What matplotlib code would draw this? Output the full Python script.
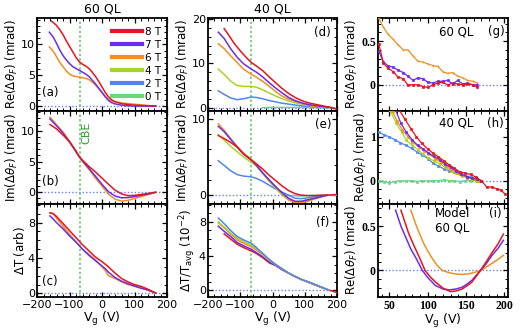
import matplotlib
matplotlib.use("Agg")
import matplotlib.pyplot as plt
from matplotlib.lines import Line2D
from matplotlib.ticker import MultipleLocator
from matplotlib.font_manager import FontProperties

# ---------------- data ----------------
fields = ["8 T", "7 T", "6 T", "4 T", "2 T", "0 T"]
colors = {"8 T": "#e8141c", "7 T": "#6b2cf0", "6 T": "#f0901e",
          "4 T": "#a8d42a", "2 T": "#4f86f2", "0 T": "#6ad77e"}

# (a) 60 QL Re
a_8_v = [-155, -140, -130, -120, -110, -100, -90, -80, -70, -60, -50, -40, -30, -20, -10, 0, 10, 20, 30, 40, 60, 80, 100, 120, 140, 165]
a_8_y = [13.8, 13.1, 12.4, 11.6, 10.6, 9.7, 8.8, 7.9, 7.2, 6.8, 6.5, 6.1, 5.5, 4.8, 4.0, 3.1, 2.2, 1.5, 1.0, 0.7, 0.4, 0.25, 0.15, 0.1, 0.05, 0.0]
a_7_v = [-162, -150, -140, -130, -120, -110, -100, -90, -80, -70, -60, -50, -40, -30, -20, -10, 0, 10, 20, 30, 40, 60, 80, 100, 140, 165]
a_7_y = [12.0, 11.2, 10.2, 9.1, 8.2, 7.5, 6.9, 6.4, 6.1, 5.8, 5.5, 5.2, 4.8, 4.2, 3.6, 2.9, 2.2, 1.5, 0.9, 0.55, 0.35, 0.15, 0.05, 0.0, 0.0, 0.0]
a_6_v = [-162, -150, -140, -130, -120, -110, -100, -90, -80, -70, -60, -50, -40, -30, -20, -10, 0, 10, 20, 30, 40, 60, 80, 100, 120, 140, 165]
a_6_y = [9.6, 8.9, 8.0, 7.1, 6.4, 5.7, 5.2, 4.9, 4.8, 4.7, 4.6, 4.5, 4.3, 3.9, 3.4, 2.8, 2.2, 1.6, 1.1, 0.85, 0.7, 0.5, 0.4, 0.3, 0.2, 0.1, 0.0]

# (b) 60 QL Im
b_v = [-160, -140, -120, -100, -80, -70, -60, -40, -20, 0, 20, 40, 60, 80, 100, 120, 140, 165]
b_8_y = [11.0, 10.3, 9.3, 8.2, 6.7, 5.8, 5.2, 4.2, 3.3, 2.3, 1.3, 0.35, -0.25, -0.55, -0.5, -0.35, -0.2, 0.0]
b_7_y = [11.9, 10.8, 9.6, 8.2, 6.6, 5.8, 5.1, 3.9, 2.6, 1.3, 0.1, -0.6, -0.9, -0.85, -0.7, -0.5, -0.3, 0.0]
b_6_y = [12.2, 11.0, 9.8, 8.3, 6.6, 5.8, 5.0, 3.7, 2.3, 1.0, -0.3, -1.1, -1.45, -1.3, -1.0, -0.7, -0.4, 0.0]

# (c) 60 QL transmission
c_v = [-160, -150, -140, -120, -100, -80, -60, -40, -20, 0, 10, 20, 40, 60, 80, 100, 120, 140, 165]
c_8_y = [9.1, 9.0, 8.7, 7.9, 7.1, 6.3, 5.5, 4.8, 4.1, 3.6, 3.3, 3.0, 2.3, 1.7, 1.3, 1.0, 0.8, 0.5, 0.05]
c_7_y = [8.75, 8.4, 8.0, 7.3, 6.5, 5.8, 5.0, 4.3, 3.7, 3.1, 2.8, 2.4, 1.8, 1.4, 1.1, 0.85, 0.6, 0.4, 0.05]
c_6_y = [9.1, 9.0, 8.5, 7.6, 6.7, 5.8, 5.0, 4.4, 3.8, 3.0, 2.6, 2.0, 1.7, 1.3, 1.0, 0.8, 0.6, 0.4, 0.05]

# (d) 40 QL Re
d_v = [-168, -150, -130, -110, -90, -66, -50, -30, -10, 10, 30, 50, 70, 90, 110, 130, 150, 175]
d_8_v = [-150, -140, -120, -100, -80, -66, -50, -30, -10, 10, 30, 50, 70, 90, 110, 130, 150, 170, 185, 202]
d_8_y = [17.8, 16.8, 14.6, 12.8, 11.2, 10.2, 9.4, 8.3, 6.9, 5.6, 4.3, 3.2, 2.3, 1.6, 1.1, 0.8, 0.5, 0.2, 0.0, -0.4]
d_7_y = [17.0, 15.6, 13.3, 11.4, 9.9, 8.7, 8.0, 6.9, 5.6, 4.4, 3.3, 2.3, 1.6, 1.1, 0.7, 0.5, 0.3, 0.1]
d_6_y = [14.4, 13.3, 11.7, 10.2, 8.7, 7.5, 6.9, 5.9, 4.8, 3.6, 2.6, 1.9, 1.4, 1.0, 0.7, 0.4, 0.2, 0.05]
d_4_y = [8.7, 7.5, 6.0, 5.0, 4.8, 4.8, 4.6, 4.0, 3.3, 2.6, 2.0, 1.5, 1.1, 0.8, 0.5, 0.3, 0.15, 0.05]
d_2_y = [3.8, 3.0, 2.2, 1.8, 2.0, 2.4, 2.3, 2.0, 1.6, 1.3, 1.0, 0.8, 0.6, 0.4, 0.3, 0.15, 0.05, 0.0]
d_0_v = [-30, 0, 50, 100, 150, 180]
d_0_y = [0.0, 0.05, 0.05, 0.05, 0.0, 0.0]

# (e) 40 QL Im
e_v = [-168, -150, -130, -110, -90, -66, -50, -30, -10, 10, 30, 50, 70, 90, 110, 130, 150, 170]
e_8_v = e_v + [200]
e_8_y = [7.8, 7.4, 6.9, 6.3, 5.4, 4.6, 4.1, 3.4, 2.6, 1.9, 1.2, 0.6, 0.2, 0.0, -0.05, -0.05, 0.0, 0.0, 0.1]
e_7_y = [9.0, 8.3, 7.3, 6.3, 5.4, 4.6, 3.9, 2.9, 2.0, 1.1, 0.3, -0.4, -0.8, -0.8, -0.6, -0.4, -0.2, 0.0]
e_6_y = [9.3, 8.5, 7.4, 6.4, 5.5, 4.7, 4.0, 2.9, 1.9, 1.1, 0.2, -0.6, -1.0, -1.0, -0.8, -0.5, -0.25, 0.0]
e_4_y = [7.9, 7.2, 6.4, 5.7, 5.0, 4.3, 3.8, 2.8, 1.8, 0.9, 0.0, -0.6, -0.85, -0.8, -0.6, -0.4, -0.2, 0.0]
e_2_y = [4.5, 3.9, 3.2, 2.7, 2.5, 2.4, 2.2, 1.8, 1.3, 0.8, 0.4, 0.0, -0.4, -0.45, -0.35, -0.2, -0.1, 0.0]
e_0_v = [30, 60, 90, 120, 150, 180, 200]
e_0_y = [0.0, -0.05, -0.1, -0.05, 0.0, 0.0, 0.0]

# (f) 40 QL transmission
f_v = [-168, -150, -130, -110, -90, -66, -50, -30, -10, 10, 30, 50, 70, 90, 110, 130, 150, 175]
f_8_v = [-150, -130, -110, -90, -66, -50, -30, -10, 10, 30, 50, 70, 90, 110, 130, 150, 175, 190, 202]
f_8_y = [6.6, 6.0, 5.4, 5.0, 4.6, 4.3, 3.8, 3.2, 2.9, 2.4, 2.0, 1.6, 1.25, 0.95, 0.65, 0.35, 0.0, -0.15, -0.35]
f_7_y = [7.5, 6.9, 6.3, 5.6, 5.2, 4.8, 4.4, 3.9, 3.3, 2.9, 2.4, 2.0, 1.6, 1.25, 0.95, 0.65, 0.35, 0.0]
f_6_y = [7.9, 7.3, 6.6, 5.9, 5.5, 5.1, 4.7, 4.1, 3.5, 3.0, 2.5, 2.0, 1.6, 1.25, 0.97, 0.67, 0.37, 0.0]
f_4_y = [8.0, 7.4, 6.7, 6.1, 5.7, 5.3, 4.9, 4.2, 3.6, 3.0, 2.5, 2.0, 1.6, 1.25, 0.98, 0.68, 0.38, 0.0]
f_2_y = [8.45, 7.8, 7.0, 6.3, 5.9, 5.5, 5.0, 4.3, 3.6, 3.0, 2.5, 2.0, 1.6, 1.25, 1.0, 0.7, 0.4, 0.0]

# (g) 60 QL Re, high gate range
g_v = [36, 42, 48, 55, 61, 68, 74, 81, 87, 94, 100, 107, 113, 120, 126, 133, 139, 146, 152, 159, 165]
g_6_y = [0.76, 0.66, 0.58, 0.52, 0.46, 0.40, 0.40, 0.33, 0.27, 0.26, 0.24, 0.22, 0.21, 0.15, 0.13, 0.14, 0.10, 0.08, 0.05, 0.04, 0.02]
g_8_y = [0.47, 0.25, 0.19, 0.15, 0.09, 0.07, 0.00, 0.00, 0.00, -0.02, -0.03, 0.00, 0.02, 0.03, 0.00, 0.02, 0.01, 0.00, 0.01, 0.00, -0.03]
g_7_y = [0.39, 0.26, 0.22, 0.20, 0.17, 0.14, 0.10, 0.05, 0.08, 0.07, 0.03, 0.02, 0.04, 0.04, 0.05, 0.01, 0.05, 0.01, 0.02, 0.00, 0.00]

# (h) 40 QL Re, high gate range
h_8_v = [55, 63, 70, 78, 85, 92, 100, 107, 114, 121, 128, 135, 142, 149, 156, 163, 170, 177, 184, 190, 196, 201]
h_8_y = [1.9, 1.6, 1.4, 1.18, 1.0, 0.85, 0.72, 0.62, 0.54, 0.45, 0.36, 0.28, 0.2, 0.17, 0.14, 0.08, 0.0, -0.14, -0.15, -0.18, -0.22, -0.3]
h_7_v = [50, 58, 65, 72, 80, 87, 94, 101, 108, 116, 123, 130, 137, 144, 151, 158, 165, 170]
h_7_y = [1.9, 1.6, 1.3, 1.1, 0.92, 0.8, 0.72, 0.63, 0.55, 0.47, 0.38, 0.3, 0.22, 0.15, 0.09, 0.05, 0.03, 0.0]
h_6_v = [48, 54, 60, 67, 74, 80, 88, 95, 102, 110, 117, 124, 131, 138, 145, 152, 159, 166]
h_6_y = [1.7, 1.58, 1.35, 1.15, 1.0, 0.88, 0.77, 0.68, 0.6, 0.5, 0.42, 0.33, 0.25, 0.18, 0.12, 0.07, 0.03, 0.0]
h_4_v = [45, 52, 59, 66, 72, 80, 87, 94, 101, 108, 116, 123, 130, 137, 145, 152, 159, 166]
h_4_y = [1.65, 1.55, 1.3, 1.1, 0.92, 0.8, 0.7, 0.6, 0.52, 0.45, 0.38, 0.3, 0.23, 0.17, 0.1, 0.06, 0.03, 0.0]
h_2_v = [36, 43, 50, 57, 64, 72, 79, 86, 93, 100, 107, 114, 121, 128, 135, 142, 149, 156, 163, 170]
h_2_y = [1.1, 1.04, 0.99, 0.93, 0.86, 0.8, 0.73, 0.65, 0.58, 0.5, 0.4, 0.33, 0.27, 0.22, 0.2, 0.16, 0.12, 0.08, 0.05, 0.0]
h_0_y = [0.0, -0.02, -0.05, -0.02, 0.0, -0.01, 0.0, -0.02, 0.0, -0.01, 0.0, 0.0, 0.02, 0.0, 0.0, -0.02, 0.0, 0.0, 0.0, 0.0]

# (i) model, 60 QL
i_7_v = [58, 65, 71, 78, 84, 93, 100, 110, 120, 128, 137, 145, 152, 158, 164, 169, 176, 184, 192, 199]
i_7_y = [0.68, 0.5, 0.38, 0.24, 0.15, 0.0, -0.08, -0.17, -0.21, -0.22, -0.21, -0.19, -0.15, -0.11, -0.05, 0.0, 0.07, 0.17, 0.25, 0.34]
i_8_v = [65, 70, 75, 82, 89, 96.5, 103, 110, 120, 130, 138, 145, 152, 158, 164, 169, 176, 184, 192, 199]
i_8_y = [0.68, 0.55, 0.42, 0.28, 0.15, 0.0, -0.07, -0.13, -0.2, -0.24, -0.23, -0.21, -0.17, -0.13, -0.06, 0.0, 0.09, 0.2, 0.3, 0.41]
i_6_v = [78, 84, 90, 95, 100, 106, 112, 119, 126, 132, 138, 145, 152, 158, 164, 169, 176, 184, 192, 199]
i_6_y = [0.68, 0.53, 0.4, 0.3, 0.22, 0.135, 0.06, 0.0, -0.02, -0.034, -0.042, -0.045, -0.04, -0.03, -0.015, 0.0, 0.035, 0.08, 0.125, 0.17]

# tick labels of the right-hand column
col3_xticks = [50, 100, 150, 200]
g_yticks, g_ylabels = [0, 0.5], ["0", "0.5"]
h_yticks, h_ylabels = [0, 1], ["0", "1"]
i_yticks, i_ylabels = [0, 0.5], ["0", "0.5"]

# ---------------- figure ----------------
plt.rcParams['font.family'] = ['DejaVu Sans']
fig = plt.figure(figsize=(5.27, 3.34), dpi=100)

W, H = 527.0, 334.0
cols = [(37, 167), (208, 337), (378, 508)]
rows = [(18, 111), (111, 204), (204, 297)]

axes = {}
names = [["a", "b", "c"], ["d", "e", "f"], ["g", "h", "i"]]
for ci, (x0, x1) in enumerate(cols):
    for ri, (y0, y1) in enumerate(rows):
        ax = fig.add_axes([x0 / W, 1 - y1 / H, (x1 - x0) / W, (y1 - y0) / H])
        axes[names[ci][ri]] = ax

lw = 1.1
blue_dot = "#6a7cff"
green_dot = "#5cc25c"
serif_fp = FontProperties(family="Liberation Serif", weight="bold", size=8.5)
YLP = 0.5

def style(ax, xlim, xmaj, xmin, ylim, ymaj, ymin, bottom):
    ax.set_xlim(*xlim)
    ax.set_ylim(*ylim)
    ax.xaxis.set_major_locator(MultipleLocator(xmaj))
    ax.xaxis.set_minor_locator(MultipleLocator(xmin))
    ax.yaxis.set_major_locator(MultipleLocator(ymaj))
    ax.yaxis.set_minor_locator(MultipleLocator(ymin))
    ax.tick_params(which="both", direction="in", top=True, right=True, labelsize=8)
    ax.tick_params(which="major", length=3.5, width=0.9)
    ax.tick_params(which="minor", length=2, width=0.7)
    ax.tick_params(axis="y", pad=1.5)
    ax.tick_params(axis="x", pad=2.5)
    for s in ax.spines.values():
        s.set_linewidth(1.3)
    if not bottom:
        ax.tick_params(labelbottom=False)
    ax.axhline(0, color=blue_dot, lw=1.0, ls=(0, (1, 1.5)), zorder=1)

def serif_ticks(ax, yt, yl, bottom):
    ax.set_yticks(yt)
    ax.set_yticklabels(yl, fontproperties=serif_fp)
    ax.set_xticks(col3_xticks)
    if bottom:
        ax.set_xticklabels([str(t) for t in col3_xticks], fontproperties=serif_fp)

def plot(ax, v, y, f, marker=None):
    ax.plot(v, y, color=colors[f], lw=lw if marker is None else 0.9, marker=marker,
            ms=1.4, mew=0.5, zorder=3)

# column 1 (60 QL)
ax = axes["a"]
style(ax, (-200, 200), 100, 20, (-0.8, 14.3), 5, 1, False)
plot(ax, a_6_v, a_6_y, "6 T"); plot(ax, a_7_v, a_7_y, "7 T"); plot(ax, a_8_v, a_8_y, "8 T")
ax.set_title("60 QL", fontsize=9, pad=4)
ax.set_ylabel(r"Re($\Delta\theta_F$) (mrad)", fontsize=8.5, labelpad=YLP)
ax.text(0.04, 0.2, "(a)", transform=ax.transAxes, fontsize=8.5, va="center")
handles = [Line2D([], [], color=colors[f], lw=3) for f in fields]
ax.legend(handles, fields, loc="upper right", bbox_to_anchor=(1.0, 0.97), frameon=False,
          fontsize=7.5, handlelength=2.8, handletextpad=0.3, labelspacing=0.28, borderpad=0.1)

ax = axes["b"]
style(ax, (-200, 200), 100, 20, (-1.9, 13.2), 5, 1, False)
plot(ax, b_v, b_6_y, "6 T"); plot(ax, b_v, b_7_y, "7 T"); plot(ax, b_v, b_8_y, "8 T")
ax.set_ylabel(r"Im($\Delta\theta_F$) (mrad)", fontsize=8.5, labelpad=YLP)
ax.text(0.04, 0.24, "(b)", transform=ax.transAxes, fontsize=8.5, va="center")
ax.text(-47, 9.6, "CBE", color="#2a9a2a", rotation=90, fontsize=8, ha="center", va="center")

ax = axes["c"]
style(ax, (-200, 200), 100, 20, (-0.4, 10.1), 4, 1, True)
plot(ax, c_v, c_6_y, "6 T"); plot(ax, c_v, c_7_y, "7 T"); plot(ax, c_v, c_8_y, "8 T")
ax.set_ylabel(r"$\Delta$T (arb)", fontsize=8.5, labelpad=YLP)
ax.set_xlabel(r"V$_\mathrm{g}$ (V)", fontsize=9, labelpad=0)
ax.text(0.04, 0.165, "(c)", transform=ax.transAxes, fontsize=8.5, va="center")

# column 2 (40 QL)
ax = axes["d"]
style(ax, (-200, 200), 100, 20, (-0.75, 20.2), 10, 2, False)
plot(ax, d_0_v, d_0_y, "0 T"); plot(ax, d_v, d_2_y, "2 T"); plot(ax, d_v, d_4_y, "4 T")
plot(ax, d_v, d_6_y, "6 T"); plot(ax, d_v, d_7_y, "7 T"); plot(ax, d_8_v, d_8_y, "8 T")
ax.set_title("40 QL", fontsize=9, pad=4)
ax.set_ylabel(r"Re($\Delta\theta_F$) (mrad)", fontsize=8.5, labelpad=YLP)
ax.text(0.89, 0.84, "(d)", transform=ax.transAxes, fontsize=8.5, va="center", ha="center")

ax = axes["e"]
style(ax, (-200, 200), 100, 20, (-1.15, 11.0), 10, 2, False)
plot(ax, e_0_v, e_0_y, "0 T"); plot(ax, e_v, e_2_y, "2 T"); plot(ax, e_v, e_4_y, "4 T")
plot(ax, e_v, e_6_y, "6 T"); plot(ax, e_v, e_7_y, "7 T"); plot(ax, e_8_v, e_8_y, "8 T")
ax.set_ylabel(r"Im($\Delta\theta_F$) (mrad)", fontsize=8.5, labelpad=YLP)
ax.text(0.89, 0.85, "(e)", transform=ax.transAxes, fontsize=8.5, va="center", ha="center")

ax = axes["f"]
style(ax, (-200, 200), 100, 20, (-0.8, 10.1), 4, 1, True)
plot(ax, f_8_v, f_8_y, "8 T"); plot(ax, f_v, f_7_y, "7 T"); plot(ax, f_v, f_6_y, "6 T")
plot(ax, f_v, f_4_y, "4 T"); plot(ax, f_v, f_2_y, "2 T")
ax.set_ylabel(r"$\Delta$T/T$_\mathrm{avg}$ (10$^{-2}$)", fontsize=8.5, labelpad=YLP)
ax.set_xlabel(r"V$_\mathrm{g}$ (V)", fontsize=9, labelpad=0)
ax.text(0.89, 0.8, "(f)", transform=ax.transAxes, fontsize=8.5, va="center", ha="center")

for k in ["a", "b", "c", "d", "e", "f"]:
    axes[k].axvline(-68, color=green_dot, lw=1.1, ls=(0, (1.5, 1.5)), zorder=2)

# column 3
ax = axes["g"]
style(ax, (35, 205), 50, 10, (-0.3, 0.765), 0.5, 0.1, False)
serif_ticks(ax, g_yticks, g_ylabels, False)
plot(ax, g_v, g_6_y, "6 T", "+"); plot(ax, g_v, g_7_y, "7 T", "s"); plot(ax, g_v, g_8_y, "8 T", "s")
ax.set_ylabel(r"Re($\Delta\theta_F$) (mrad)", fontsize=8.5, labelpad=YLP)
ax.text(0.6, 0.85, "60 QL", transform=ax.transAxes, fontsize=8.5, va="center", ha="center")
ax.text(0.91, 0.85, "(g)", transform=ax.transAxes, fontsize=8.5, va="center", ha="center")

ax = axes["h"]
style(ax, (35, 205), 50, 10, (-0.53, 1.58), 1, 0.2, False)
serif_ticks(ax, h_yticks, h_ylabels, False)
plot(ax, h_2_v, h_0_y, "0 T", "s"); plot(ax, h_2_v, h_2_y, "2 T", "s"); plot(ax, h_4_v, h_4_y, "4 T", "s")
plot(ax, h_6_v, h_6_y, "6 T", "s"); plot(ax, h_7_v, h_7_y, "7 T", "s"); plot(ax, h_8_v, h_8_y, "8 T", "s")
ax.set_ylabel(r"Re($\Delta\theta_F$) (mrad)", fontsize=8.5, labelpad=YLP)
ax.text(0.6, 0.87, "40 QL", transform=ax.transAxes, fontsize=8.5, va="center", ha="center")
ax.text(0.9, 0.87, "(h)", transform=ax.transAxes, fontsize=8.5, va="center", ha="center")

ax = axes["i"]
style(ax, (35, 205), 50, 10, (-0.3, 0.75), 0.5, 0.1, True)
serif_ticks(ax, i_yticks, i_ylabels, True)
plot(ax, i_6_v, i_6_y, "6 T"); plot(ax, i_7_v, i_7_y, "7 T"); plot(ax, i_8_v, i_8_y, "8 T")
ax.set_ylabel(r"Re($\Delta\theta_F$) (mrad)", fontsize=8.5, labelpad=YLP)
ax.set_xlabel(r"V$_\mathrm{g}$ (V)", fontsize=9, labelpad=0)
ax.text(0.57, 0.9, "Model", transform=ax.transAxes, fontsize=8.5, va="center", ha="center")
ax.text(0.57, 0.74, "60 QL", transform=ax.transAxes, fontsize=8.5, va="center", ha="center")
ax.text(0.9, 0.9, "(i)", transform=ax.transAxes, fontsize=8.5, va="center", ha="center")

fig.savefig("out.png", dpi=100)
